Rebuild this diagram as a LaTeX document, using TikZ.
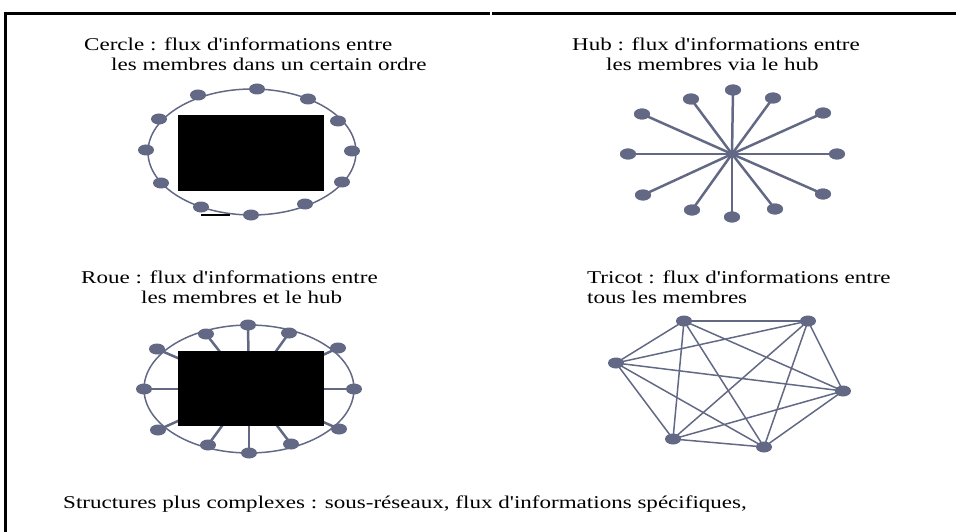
\documentclass[tikz,border=0pt]{standalone}
\usepackage{fontspec}
\setmainfont[FakeStretch=1.28,Ligatures=TeXOff]{Liberation Serif}
\usetikzlibrary{shapes.geometric}
\definecolor{net}{RGB}{99,105,133}
\begin{document}
\begin{tikzpicture}[x=1pt,y=-1pt,
  dot/.style={ellipse,fill=net,draw=none,minimum width=16pt,minimum height=11pt,inner sep=0pt},
  hubdot/.style={circle,fill=net,draw=none,minimum size=7pt,inner sep=0pt},
  ring/.style={draw=net,line width=1.5pt},
  spoke/.style={draw=net,line width=2.5pt},
  mesh/.style={draw=net,line width=1.5pt},
  lbl/.style={anchor=base west,inner sep=0pt,font=\fontsize{18}{20}\selectfont},
  mask/.style={fill=black,draw=none}]
\useasboundingbox (0,0) rectangle (956,532);
% frame
\draw[line width=3pt] (5,532) -- (5,14) -- (490,14);
\draw[line width=3pt] (492,14) -- (960,14);

% ---------- Cercle ----------
\node[lbl] (tc1) at (84,51) {Cercle : flux d'informations entre};
\node[lbl] (tc2) at (111,71) {les membres dans un certain ordre};
\draw[ring] (252,152) ellipse [x radius=104, y radius=63];
\fill[mask] (178,115) rectangle (324,191);
\draw[black,line width=1.3pt] (201,215) -- (230,215);
\foreach \n/\x/\y in {1/257/89,2/198/95,3/308/99,4/159/119,5/338/121,6/146/150,
  7/352/151,8/161/183,9/342/182,10/201/207,11/305/204,12/251/215}
  \node[dot] (c\n) at (\x,\y) {};

% ---------- Hub ----------
\node[lbl] (th1) at (572,51) {Hub : flux d'informations entre};
\node[lbl] (th2) at (606,71) {les membres via le hub};
\node[hubdot] (hub) at (732,154) {};
\foreach \n/\x/\y in {1/733/90,2/691/99,3/773/98,4/642/114,5/823/113,6/628/154,
  7/837/154,8/643/195,9/823/194,10/692/210,11/775/209,12/732/217}
  \node[dot] (h\n) at (\x,\y) {};
\foreach \n in {1,...,12} \draw[spoke] (hub.center) -- (h\n.center);
\foreach \n in {1,...,12} \node[dot] at (h\n) {};
\node[hubdot] at (hub) {};

% ---------- Roue ----------
\node[lbl] (tr1) at (81,283) {Roue : flux d'informations entre};
\node[lbl] (tr2) at (141,303) {les membres et le hub};
\draw[ring] (249,389) ellipse [x radius=105, y radius=64];
\coordinate (rc) at (249,389);
\foreach \n/\x/\y in {1/248/325,2/206/334,3/289/333,4/157/349,5/338/348,6/144/389,
  7/354/389,8/158/430,9/339/429,10/208/445,11/291/444,12/249/453}
  \coordinate (rp\n) at (\x,\y);
\foreach \n in {1,...,12} \draw[spoke] (rc) -- (rp\n);
\fill[mask] (178,351) rectangle (324,426);
\foreach \n in {1,...,12} \node[dot] (r\n) at (rp\n) {};

% ---------- Tricot ----------
\node[lbl] (tt1) at (587,283) {Tricot : flux d'informations entre};
\node[lbl] (tt2) at (587,303) {tous les membres};
\foreach \n/\x/\y in {1/684/321,2/808/321,3/616/363,4/843/391,5/673/439,6/764/447}
  \coordinate (tp\n) at (\x,\y);
\foreach \a/\b in {1/2,1/3,1/4,1/5,1/6,2/3,2/4,2/5,2/6,3/4,3/5,3/6,4/5,4/6,5/6}
  \draw[mesh] (tp\a) -- (tp\b);
\foreach \n in {1,...,6} \node[dot] (t\n) at (tp\n) {};

% ---------- bottom ----------
\node[lbl] (tb) at (63,508) {Structures plus complexes : sous-réseaux, flux d'informations spécifiques,};
\end{tikzpicture}
\end{document}
